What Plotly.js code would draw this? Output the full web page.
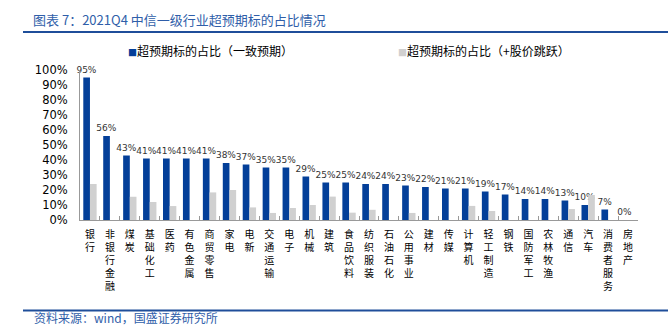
<!DOCTYPE html>
<html>
<head>
<meta charset="utf-8">
<script src="https://cdn.plot.ly/plotly-3.0.1.min.js"></script>
<style>html,body{margin:0;padding:0;background:#fff;}#chart{width:668px;height:333px;}</style>
</head>
<body>
<div id="chart"></div>
<script>
var categories = ['银行','非银行金融','煤炭','基础化工','医药','有色金属','商贸零售','家电','电新','交通运输','电子','机械','建筑','食品饮料','纺织服装','石油石化','公用事业','建材','传媒','计算机','轻工制造','钢铁','国防军工','农林牧渔','通信','汽车','消费者服务','房地产'];
var consensusShare = [0.95,0.56,0.43,0.41,0.41,0.41,0.41,0.38,0.37,0.35,0.35,0.29,0.25,0.25,0.24,0.24,0.23,0.22,0.21,0.21,0.19,0.17,0.14,0.14,0.13,0.10,0.07,0];
var priceJumpShare = [0.24,0,0.155,0.12,0.093,0,0.184,0.20,0.084,0.047,0.08,0.10,0.156,0.049,0.068,0,0.047,0,0,0.094,0.06,0,0,0,0.073,0.167,0,0];
var seriesNames = ['超预期标的占比（一致预期）','超预期标的占比（+股价跳跃）'];
var titleText = '图表 7：2021Q4 中信一级行业超预期标的占比情况';
var sourceText = '资料来源：wind，国盛证券研究所';

var BLUE = '#033f99', GRAY = '#d0d0d0', TBLUE = '#2f5ea9', LBLUE = '#1f4e9a';
var CJK = '"Noto Sans CJK SC", sans-serif';

var tickText = categories.map(function(c){ return c.split('').join('<br>'); });

var traces = [
  {type:'bar', name:seriesNames[0], x:categories, y:consensusShare, marker:{color:BLUE},
   texttemplate:'%{y:.0%}', textposition:'outside', textangle:0, constraintext:'none', cliponaxis:false,
   textfont:{family:'DejaVu Sans', size:9, color:'#333'}, hoverinfo:'x+y'},
  {type:'bar', name:seriesNames[1], x:categories, y:priceJumpShare, marker:{color:GRAY}, hoverinfo:'x+y'}
];

var L=80, R=30, T=70, B=113, W=668, H=333;
var pw = W-L-R, ph = H-T-B;
function px(x){ return (x-L)/pw; }
function py(y){ return (H-B-y)/ph; }

var layout = {
  width:W, height:H,
  margin:{l:L, r:R, t:T, b:B, pad:0},
  paper_bgcolor:'#fff', plot_bgcolor:'#fff',
  showlegend:false,
  barmode:'group', bargap:0.33, bargroupgap:0,
  title:{text:titleText, x:33/W, xanchor:'left', xref:'container', y:1-20/H, yanchor:'middle', yref:'container',
         font:{family:CJK, size:13, color:TBLUE}},
  xaxis:{type:'category', tickvals:categories, ticktext:tickText, tickson:'boundaries', ticks:'inside', ticklen:4,
         tickcolor:'#999', showline:true, linecolor:'#999', linewidth:1, tickangle:0, ticklabelstandoff:5,
         tickfont:{family:CJK, size:10, color:'#000'}, showgrid:false, fixedrange:true},
  yaxis:{range:[0,1], dtick:0.1, tickformat:'.0%', showline:true, linecolor:'#999', linewidth:1, showgrid:false,
         zeroline:false, ticks:'', ticklabelstandoff:9, tickfont:{family:'DejaVu Sans', size:11.5, color:'#000'}, fixedrange:true},
  shapes:[
    {type:'line', xref:'paper', yref:'paper', x0:px(23), x1:px(668), y0:py(32), y1:py(32), line:{color:LBLUE, width:2}},
    {type:'line', xref:'paper', yref:'paper', x0:px(23), x1:px(668), y0:py(310.5), y1:py(310.5), line:{color:LBLUE, width:2}}
  ],
  annotations:[
    {xref:'paper', yref:'paper', x:px(126), y:py(50), xanchor:'left', yanchor:'middle', showarrow:false,
     text:'<span style="color:'+BLUE+';font-size:9px">■</span>'+seriesNames[0], font:{family:CJK, size:12, color:'#000'}},
    {xref:'paper', yref:'paper', x:px(396), y:py(50), xanchor:'left', yanchor:'middle', showarrow:false,
     text:'<span style="color:'+GRAY+';font-size:9px">■</span>'+seriesNames[1], font:{family:CJK, size:12, color:'#000'}},
    {xref:'paper', yref:'paper', x:px(32), y:py(317), xanchor:'left', yanchor:'middle', showarrow:false,
     text:sourceText, font:{family:CJK, size:12, color:TBLUE}}
  ]
};

Plotly.newPlot('chart', traces, layout, {displayModeBar:false, staticPlot:true});
</script>
</body>
</html>
